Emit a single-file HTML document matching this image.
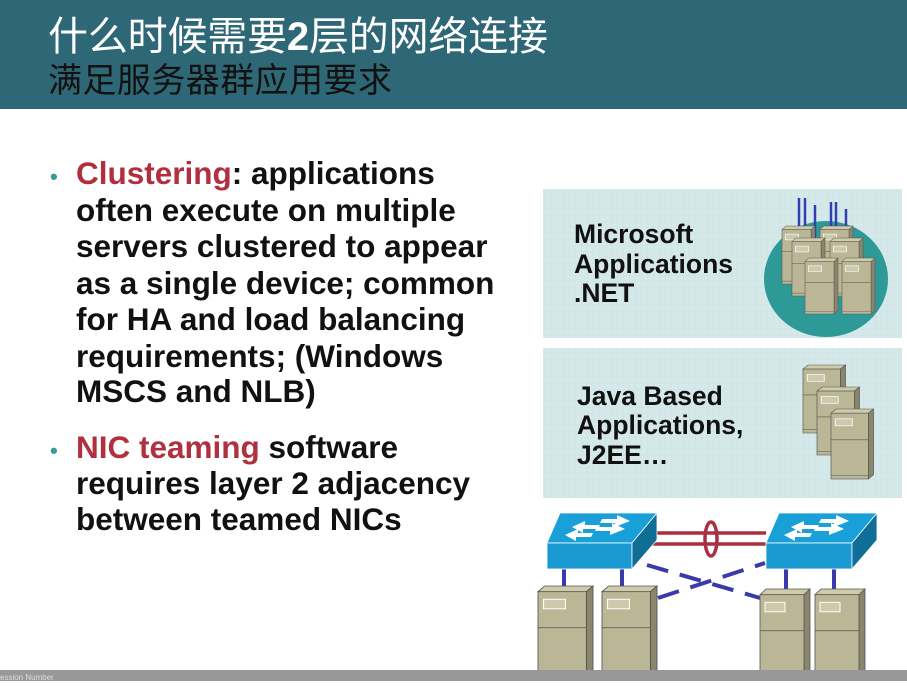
<!DOCTYPE html>
<html><head><meta charset="utf-8"><style>
html,body{margin:0;padding:0;background:#fff;}
body{width:907px;height:681px;overflow:hidden;position:relative;}
</style></head><body>
<svg width="907" height="681" viewBox="0 0 907 681" xmlns="http://www.w3.org/2000/svg">
<defs>
<pattern id="grid" width="6" height="6" patternUnits="userSpaceOnUse">
<rect width="6" height="6" fill="#d6e9ea"/>
<path d="M6 0V6M0 6H6" stroke="#c4dcdd" stroke-width="0.6"/>
</pattern>
<g id="srv">
<polygon points="0,6 6,0 50,0 44,6" fill="#cfcaaa" stroke="#555" stroke-width="0.8"/>
<polygon points="44,6 50,0 50,94 44,100" fill="#8a866a" stroke="#555" stroke-width="0.8"/>
<rect x="0" y="6" width="44" height="94" fill="#bbb696" stroke="#555" stroke-width="0.8"/>
<rect x="5" y="14" width="20" height="10" fill="#cdc9ad" stroke="#fff" stroke-width="1"/>
<line x1="0" y1="44" x2="44" y2="44" stroke="#555" stroke-width="0.8"/>
<line x1="0" y1="95" x2="44" y2="95" stroke="#555" stroke-width="0.8"/>
</g>
</defs>
<rect x="0" y="0" width="907" height="109" fill="#2e6775"/>
<text x="48" y="50" font-family="'Liberation Sans','Noto Sans CJK SC',sans-serif" font-size="40" fill="#fff" textLength="500">什么时候需要<tspan font-weight="bold">2</tspan>层的网络连接</text>
<text x="48" y="92" font-family="'Liberation Sans','Noto Sans CJK SC',sans-serif" font-size="34" fill="#111" textLength="344">满足服务器群应用要求</text>

<g font-family="'Liberation Sans',sans-serif" font-size="31.5" font-weight="bold" fill="#111">
<text x="50" y="184" fill="#3a9a9a" font-size="22">•</text>
<text x="76" y="184"><tspan fill="#b0303f">Clustering</tspan>: applications</text>
<text x="76" y="221">often execute on multiple</text>
<text x="76" y="257">servers clustered to appear</text>
<text x="76" y="294">as a single device; common</text>
<text x="76" y="330">for HA and load balancing</text>
<text x="76" y="367">requirements;  (Windows</text>
<text x="76" y="402">MSCS and NLB)</text>
<text x="50" y="458" fill="#3a9a9a" font-size="22">•</text>
<text x="76" y="458"><tspan fill="#b0303f">NIC teaming</tspan> software</text>
<text x="76" y="494">requires layer 2 adjacency</text>
<text x="76" y="530">between teamed NICs</text>
</g>

<rect x="543" y="189" width="359" height="149" fill="url(#grid)"/>
<rect x="543" y="348" width="359" height="150" fill="url(#grid)"/>
<g font-family="'Liberation Sans',sans-serif" font-size="26.5" font-weight="bold" fill="#111">
<text x="574" y="243">Microsoft</text>
<text x="574" y="273">Applications</text>
<text x="574" y="302">.NET</text>
<text x="577" y="405">Java Based</text>
<text x="577" y="434">Applications,</text>
<text x="577" y="464">J2EE…</text>
</g>
<ellipse cx="826" cy="279" rx="62" ry="58" fill="#2e9a98"/>
<g stroke="#3040b0" stroke-width="2.5">
<line x1="799" y1="198" x2="799" y2="240"/><line x1="805" y1="198" x2="805" y2="240"/>
<line x1="815" y1="205" x2="815" y2="260"/><line x1="831" y1="202" x2="831" y2="240"/>
<line x1="836" y1="202" x2="836" y2="240"/><line x1="846" y1="209" x2="846" y2="260"/>
</g>
<use href="#srv" transform="translate(782,226) scale(0.66,0.58)"/>
<use href="#srv" transform="translate(820,226) scale(0.66,0.58)"/>
<use href="#srv" transform="translate(792,238) scale(0.66,0.58)"/>
<use href="#srv" transform="translate(830,238) scale(0.66,0.58)"/>
<use href="#srv" transform="translate(805,258) scale(0.66,0.56)"/>
<use href="#srv" transform="translate(842,258) scale(0.66,0.56)"/>
<use href="#srv" transform="translate(803,365) scale(0.85,0.68)"/>
<use href="#srv" transform="translate(817,387) scale(0.85,0.68)"/>
<use href="#srv" transform="translate(831,409) scale(0.85,0.7)"/>

<g stroke="#3a3aaa" stroke-width="4">
<line x1="564" y1="569" x2="564" y2="590"/><line x1="622" y1="569" x2="622" y2="590"/>
<line x1="786" y1="569" x2="786" y2="592"/><line x1="834" y1="569" x2="834" y2="592"/>
<line x1="647" y1="565" x2="760" y2="598" stroke-dasharray="22,12"/>
<line x1="658" y1="598" x2="765" y2="563" stroke-dasharray="22,12"/>
</g>
<g stroke="#a83040" stroke-width="3.5" fill="none">
<line x1="657" y1="533" x2="766" y2="533"/><line x1="652" y1="544" x2="766" y2="544"/>
<ellipse cx="711" cy="539" rx="6" ry="17"/>
</g>
<g stroke="#fff" stroke-width="0.8">
<polygon points="547,543 560,513 657,513 632,543" fill="#1aa0d8"/>
<rect x="547" y="543" width="85" height="26" fill="#1a9ad0"/>
<polygon points="632,543 657,513 657,540 632,569" fill="#0e6e96"/>
<polygon points="766,543 779,513 877,513 852,543" fill="#1aa0d8"/>
<rect x="766" y="543" width="86" height="26" fill="#1a9ad0"/>
<polygon points="852,543 877,513 877,540 852,569" fill="#0e6e96"/>
</g>
<g fill="#fff">
<polygon points="572,527 585,521 585,525 600,525 598,529 583,529 583,533"/>
<polygon points="630,521 617,515 617,519 602,519 600,523 615,523 615,527"/>
<polygon points="565,535 578,529 578,533 593,533 591,537 576,537 576,541"/>
<polygon points="625,529 612,523 612,527 597,527 595,531 610,531 610,535"/>
<polygon points="791,527 804,521 804,525 819,525 817,529 802,529 802,533"/>
<polygon points="849,521 836,515 836,519 821,519 819,523 834,523 834,527"/>
<polygon points="784,535 797,529 797,533 812,533 810,537 795,537 795,541"/>
<polygon points="844,529 831,523 831,527 816,527 814,531 829,531 829,535"/>
</g>
<use href="#srv" transform="translate(538,586) scale(1.1,0.95)"/>
<use href="#srv" transform="translate(602,586) scale(1.1,0.95)"/>
<use href="#srv" transform="translate(760,589) scale(1.0,0.95)"/>
<use href="#srv" transform="translate(815,589) scale(1.0,0.95)"/>
<rect x="0" y="670" width="907" height="11" fill="#989898"/>
<text x="0" y="680" font-family="'Liberation Sans',sans-serif" font-size="8" fill="#ddd">ession Number</text>
</svg>
</body></html>
